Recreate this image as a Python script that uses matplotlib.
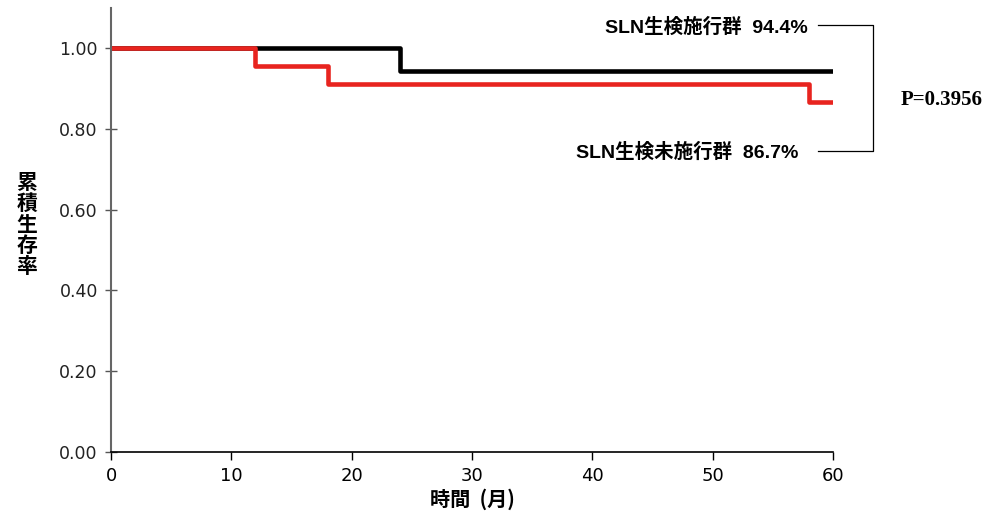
import matplotlib
matplotlib.use('Agg')
import matplotlib.pyplot as plt

# Kaplan-Meier steps (months, cumulative survival)
t_biopsy = [0, 24, 60]
s_biopsy = [1.0, 0.944, 0.944]
t_no_biopsy = [0, 12, 18, 58, 60]
s_no_biopsy = [1.0, 0.956, 0.911, 0.867, 0.867]

label_biopsy = 'SLN生検施行群  94.4%'
label_no_biopsy = 'SLN生検未施行群  86.7%'
p_text = 'P=0.3956'

xticks = [0, 10, 20, 30, 40, 50, 60]
yticks = [0.0, 0.2, 0.4, 0.6, 0.8, 1.0]

cjk = ['Noto Sans CJK JP', 'DejaVu Sans']
mixed = ['Liberation Sans', 'Noto Sans CJK JP']

fig = plt.figure(figsize=(9.87, 5.19), dpi=100)
ax = fig.add_axes([0.1125, 0.129, 0.7315, 0.856])

ax.step(t_biopsy, s_biopsy, where='post', color='black', lw=3.3)
ax.step(t_no_biopsy, s_no_biopsy, where='post', color='#e8241f', lw=3.3)

ax.set_xlim(0, 60)
ax.set_ylim(0, 1.1)
ax.set_xticks(xticks)
ax.set_yticks(yticks)
ax.set_yticklabels(['%.2f' % v for v in yticks], fontsize=12.5, family='DejaVu Sans', color='#222222')
ax.set_xticklabels([str(v) for v in xticks], fontsize=13, family='DejaVu Sans')
ax.tick_params(axis='y', direction='inout', length=9, width=1, color='#555555', pad=5)
ax.tick_params(axis='x', direction='out', length=6, width=1, pad=5)

for s in ['top', 'right']:
    ax.spines[s].set_visible(False)
ax.spines['left'].set_color('#666666')
ax.spines['left'].set_linewidth(1.5)
ax.spines['bottom'].set_linewidth(1.2)

ax.set_xlabel('時間  (月)', family=cjk, fontsize=14.5, fontweight='bold', labelpad=2)
ax.text(-7.0, 0.563, '累\n積\n生\n存\n率', family=cjk, fontsize=15, fontweight='bold',
        ha='center', va='center', linespacing=1.0, transform=ax.transData)

# group labels and bracket
ax.text(57.9, 1.052, label_biopsy, family=mixed, fontsize=14, fontweight='bold',
        ha='right', va='center', clip_on=False)
ax.text(57.1, 0.742, label_no_biopsy, family=mixed, fontsize=14, fontweight='bold',
        ha='right', va='center', clip_on=False)
ax.plot([58.75, 63.3, 63.3, 58.75], [1.058, 1.058, 0.745, 0.745], color='black',
        lw=0.9, clip_on=False)
ax.text(65.6, 0.872, p_text, family='Liberation Serif', fontsize=15, fontweight='bold',
        ha='left', va='center', clip_on=False)

fig.savefig('out.png', dpi=100)
